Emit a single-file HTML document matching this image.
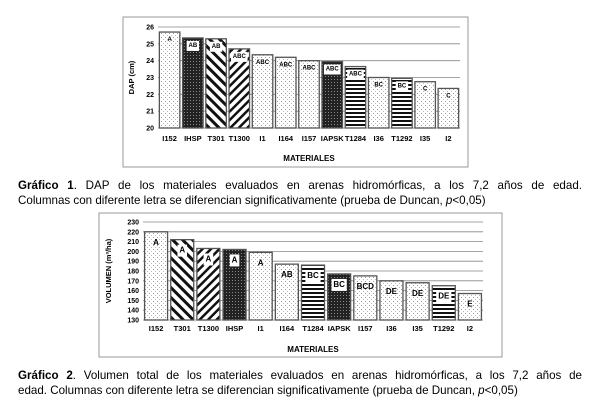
<!DOCTYPE html><html><head><meta charset="utf-8"><style>
body{margin:0;background:#fff;width:600px;height:402px;overflow:hidden;font-family:"Liberation Sans",sans-serif}
.cap{position:absolute;left:18px;width:564px;font-size:11.6px;line-height:15px;color:#000;white-space:nowrap}
.j{text-align:justify;text-align-last:justify}
</style></head><body>
<svg id="s" width="600" height="402" style="position:absolute;left:0;top:0" xmlns="http://www.w3.org/2000/svg">
<defs>
<pattern id="dot" width="4" height="4" patternUnits="userSpaceOnUse"><rect width="4" height="4" fill="#fff"/><rect x="1" y="1" width="1" height="1" fill="#999"/><rect x="3" y="3" width="1" height="1" fill="#bbb"/></pattern>
<pattern id="dark" width="3" height="3" patternUnits="userSpaceOnUse"><rect width="3" height="3" fill="#222"/><rect x="1" y="1" width="1" height="1" fill="#888"/></pattern>
<pattern id="bs" width="7" height="7" patternUnits="userSpaceOnUse" patternTransform="rotate(-45)"><rect width="7" height="7" fill="#fff"/><rect width="3" height="7" fill="#111"/></pattern>
<pattern id="fs" width="6" height="6" patternUnits="userSpaceOnUse" patternTransform="rotate(45)"><rect width="6" height="6" fill="#fff"/><rect width="2.5" height="6" fill="#111"/></pattern>
<pattern id="hz" width="4" height="4" patternUnits="userSpaceOnUse"><rect width="4" height="4" fill="#fff"/><rect width="4" height="2" fill="#111"/></pattern>
</defs>
<g id="g"></g>
</svg>
<div class="cap" style="top:178px"><div class="j"><b>Gráfico 1</b>. DAP de los materiales evaluados en arenas hidromórficas, a los 7,2 años de edad.</div><div>Columnas con diferente letra se diferencian significativamente (prueba de Duncan, <i>p</i>&lt;0,05)</div></div>
<div class="cap" style="top:368px"><div class="j"><b>Gráfico 2</b>. Volumen total de los materiales evaluados en arenas hidromórficas, a los 7,2 años de</div><div>edad. Columnas con diferente letra se diferencian significativamente (prueba de Duncan, <i>p</i>&lt;0,05)</div></div>
<script>
var g=document.getElementById('g'),h='';
function chart(o){
 h+='<rect x="'+o.fx+'" y="'+o.fy+'" width="'+o.fw+'" height="'+o.fh+'" fill="#fff" stroke="#999" stroke-width="1"/>';
 var sc=(o.y0-o.y1)/(o.max-o.min);
 for(var v=o.min;v<=o.max;v+=o.step){var y=o.y0-(v-o.min)*sc;
  h+='<line x1="'+o.px+'" x2="'+o.px2+'" y1="'+y+'" y2="'+y+'" stroke="#888" stroke-width="0.8"/>';
  h+='<text x="'+(o.px-4)+'" y="'+(y+2.5)+'" font-size="7" font-weight="bold" text-anchor="end">'+v+'</text>';}
 var slot=(o.px2-o.px)/o.d.length;
 o.d.forEach(function(d,i){var x=o.px+i*slot+(slot-o.bw)/2,y=o.y0-(d[1]-o.min)*sc;
  h+='<rect x="'+x+'" y="'+y+'" width="'+o.bw+'" height="'+(o.y0-y)+'" fill="url(#'+d[2]+')" stroke="#555" stroke-width="1.3"/>';
  var cx=x+o.bw/2,tw=d[3].length*o.ls*0.7+4;
  if(d[2]!='dot')h+='<rect x="'+(cx-tw/2)+'" y="'+(y+o.ly-o.ls)+'" width="'+tw+'" height="'+(o.ls+4)+'" fill="#fff"/>';
  h+='<text x="'+cx+'" y="'+(y+o.ly)+'" font-size="'+o.ls+'" font-weight="bold" text-anchor="middle">'+d[3]+'</text>';
  h+='<text x="'+cx+'" y="'+o.lab+'" font-size="7.5" font-weight="bold" text-anchor="middle">'+d[0]+'</text>';});
 h+='<text x="'+((o.px+o.px2)/2)+'" y="'+o.mt+'" font-size="8" font-weight="bold" text-anchor="middle">MATERIALES</text>';
 h+='<text transform="translate('+o.ax+','+((o.y0+o.y1)/2)+') rotate(-90)" font-size="7.5" font-weight="bold" text-anchor="middle">'+o.yt+'</text>';
}
chart({fx:123,fy:17,fw:345,fh:150,px:158,px2:460,y0:128,y1:27,min:20,max:26,step:1,bw:20.5,ls:6,ly:9,lab:141,mt:161,ax:134,yt:'DAP (cm)',
d:[['I152',25.7,'dot','A'],['IHSP',25.35,'dark','AB'],['T301',25.3,'bs','AB'],['T1300',24.7,'fs','ABC'],['I1',24.35,'dot','ABC'],['I164',24.2,'dot','ABC'],['I157',24.0,'dot','ABC'],['IAPSK',23.95,'dark','ABC'],['T1284',23.65,'hz','ABC'],['I36',23.0,'dot','BC'],['T1292',22.95,'hz','BC'],['I35',22.75,'dot','C'],['I2',22.35,'dot','C']]});
chart({fx:99,fy:213,fw:403,fh:144,px:143,px2:483,y0:320,y1:222,min:130,max:230,step:10,bw:23,ls:8,ly:13,lab:331,mt:352,ax:111,yt:'VOLUMEN (m³/ha)',
d:[['I152',220,'dot','A'],['T301',212,'bs','A'],['T1300',203,'fs','A'],['IHSP',202,'dark','A'],['I1',199,'dot','A'],['I164',187,'dot','AB'],['T1284',186,'hz','BC'],['IAPSK',177,'dark','BC'],['I157',175,'dot','BCD'],['I36',170,'dot','DE'],['I35',168,'dot','DE'],['T1292',165,'hz','DE'],['I2',157,'dot','E']]});
g.innerHTML=h;
</script>
</body></html>
